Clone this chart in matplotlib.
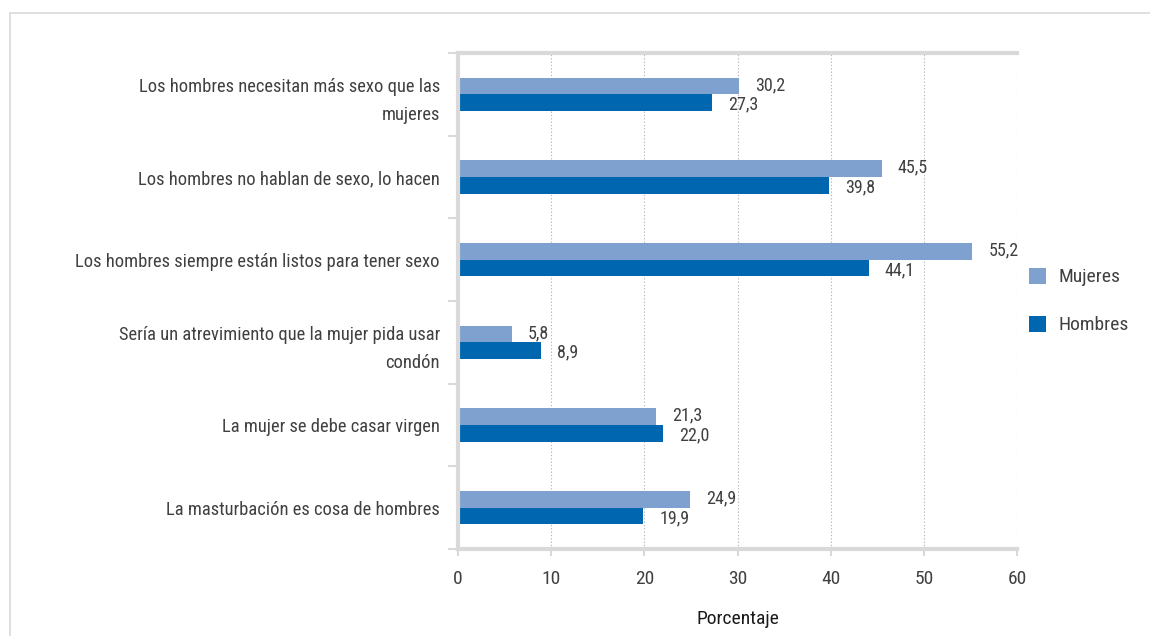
import matplotlib
matplotlib.use("Agg")
import matplotlib.pyplot as plt
from matplotlib import font_manager
from matplotlib.patches import Patch, Rectangle

# datos de la encuesta (porcentaje de acuerdo con cada afirmación)
categorias = [
    "Los hombres necesitan más sexo que las\nmujeres",
    "Los hombres no hablan de sexo, lo hacen",
    "Los hombres siempre están listos para tener sexo",
    "Sería un atrevimiento que la mujer pida usar\ncondón",
    "La mujer se debe casar virgen",
    "La masturbación es cosa de hombres",
]
mujeres = [30.2, 45.5, 55.2, 5.8, 21.3, 24.9]
hombres = [27.3, 39.8, 44.1, 8.9, 22.0, 19.9]
series = ["Mujeres", "Hombres"]
ticks_x = [0, 10, 20, 30, 40, 50, 60]

# fuente estrecha si existe, si no DejaVu
disponibles = {f.name for f in font_manager.fontManager.ttflist}
fuente = "DejaVu Sans"
for nombre in ["Liberation Sans Narrow", "DejaVu Sans Condensed", "Roboto Condensed"]:
    if nombre in disponibles:
        fuente = nombre
        break
plt.rcParams["font.family"] = [fuente, "DejaVu Sans"]

gris_texto = "#404040"
gris_linea = "#d9d9d9"
color_muj = "#7fa1cf"
color_hom = "#0066b0"

fig = plt.figure(figsize=(11.5, 6.36), dpi=100)
# marco exterior del gráfico
fig.add_artist(Rectangle((10 / 1150, -0.1), 1.2, 1 - 13 / 636 + 0.1,
                         transform=fig.transFigure, fill=False,
                         edgecolor=gris_linea, linewidth=1.2))

ax = fig.add_axes([458 / 1150, 1 - 549 / 636, (1017 - 458) / 1150, (549 - 53) / 636])

pos = list(range(len(categorias)))
alto = 0.2
ax.barh([p - alto / 2 for p in pos], mujeres, height=alto, color=color_muj, label=series[0])
ax.barh([p + alto / 2 for p in pos], hombres, height=alto, color=color_hom, label=series[1])

for p, v in zip(pos, mujeres):
    ax.annotate(f"{v:.1f}".replace(".", ","), (v, p - alto / 2), xytext=(16, 1),
                textcoords="offset pixels", va="center", ha="left",
                fontsize=13, color=gris_texto)
for p, v in zip(pos, hombres):
    ax.annotate(f"{v:.1f}".replace(".", ","), (v, p + alto / 2), xytext=(16, -2),
                textcoords="offset pixels", va="center", ha="left",
                fontsize=13, color=gris_texto)

ax.set_xlim(0, 60)
ax.set_ylim(len(categorias) - 0.5, -0.5)
ax.set_xticks(ticks_x)
ax.set_xticklabels([str(t) for t in ticks_x], fontsize=14, color=gris_texto)

# etiquetas de categoría centradas en la banda, ticks en los bordes
ax.set_yticks(pos)
ax.set_yticklabels(categorias, fontsize=13.3, color=gris_texto, ha="right",
                   linespacing=1.7)
ax.tick_params(axis="y", length=0, pad=13)
ax.set_yticks([p - 0.5 for p in pos] + [len(pos) - 0.5], minor=True)
ax.tick_params(axis="y", which="minor", length=7, width=1.5, color=gris_linea)
ax.tick_params(axis="x", length=5, width=1.5, color=gris_linea, pad=10)

ax.grid(axis="x", linestyle=(0, (1.2, 1.8)), color="#b8b8b8", linewidth=0.8)
ax.set_axisbelow(True)
for lado in ["left", "bottom", "top"]:
    ax.spines[lado].set_color(gris_linea)
    ax.spines[lado].set_linewidth(3)
ax.spines["right"].set_visible(False)

ax.set_xlabel("Porcentaje", fontsize=14, color="#1a1a1a", labelpad=16)

handles = [Patch(facecolor=color_muj), Patch(facecolor=color_hom)]
leg = ax.legend(handles, series, loc="center left", bbox_to_anchor=(0.99, 0.5),
                frameon=False, fontsize=14, handlelength=0.9, handleheight=0.9,
                handletextpad=0.6, labelspacing=1.5)
for t in leg.get_texts():
    t.set_color(gris_texto)

fig.savefig("out.png", dpi=100, facecolor="white")
